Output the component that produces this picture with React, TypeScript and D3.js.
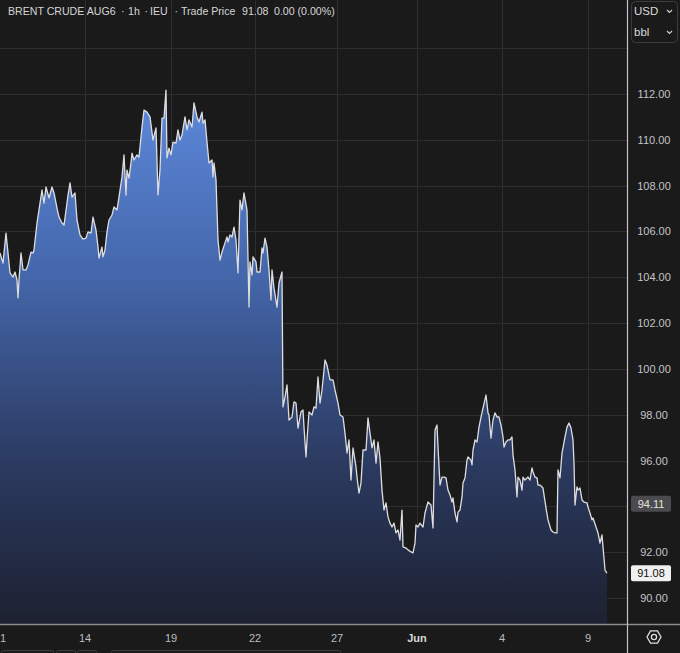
import { useRef, useEffect } from 'react';
import * as d3 from 'd3';

// [hour index, price], hourly bars
const weekA: [number, number][] = [
  [0, 105.06], [1.5, 104.62], [3, 105.93], [4, 105.06], [5, 104.19], [6.5, 104.01], [7.5, 104.23],
  [8.5, 103.88], [9, 103.1], [9.5, 103.88], [10.5, 105.06], [11.5, 104.32], [13, 104.32], [14, 104.54],
  [15.5, 105.1], [16.5, 105.06], [17, 105.19], [18.5, 106.37], [19.5, 106.94], [21, 107.81], [22, 107.24],
  [23, 107.94], [24.5, 107.46], [26, 107.94], [27, 107.68], [28.5, 107.02], [29.5, 106.63], [31, 106.37],
  [32, 106.28], [33.5, 107.24], [34, 107.59], [35, 108.12], [36, 107.5], [37.5, 107.68], [38.5, 106.5],
  [40, 105.85], [41.5, 105.67], [43, 105.71], [44, 105.98], [45.5, 105.93], [46.5, 106.63], [48, 106.06],
  [49, 105.32], [49.5, 104.84], [51, 105.32], [51.5, 104.89], [52.5, 105.19], [53.5, 105.98], [54.5, 106.5],
  [56, 106.72], [57, 107.07], [58.5, 106.94], [59.5, 107.5], [61, 108.38], [62, 109.34], [63, 107.59],
  [63.5, 108.68], [64.5, 108.33], [65.5, 108.99], [66, 109.42], [67, 109.12], [68.5, 109.34], [69.5, 109.25],
  [71, 110.56], [72, 111.3], [73.5, 111.21], [75, 111.0],
];

const weekB: [number, number][] = [
  [76.5, 109.99], [78, 110.52], [79, 107.59], [80, 108.68], [81, 110.95], [82, 110.95], [83, 112.17],
  [83.5, 109.21], [84.5, 109.64], [85.5, 109.34], [86.5, 109.9], [88, 109.86], [89, 110.43], [90, 109.99],
  [91, 110.21], [92.5, 111.0], [93.5, 110.43], [94.5, 110.87], [96, 110.56], [97, 111.61], [98.5, 111.0],
  [99.5, 110.78], [101, 111.21], [101.5, 110.73], [102.5, 110.87], [103.5, 109.9], [104.5, 108.99],
  [106, 109.12], [106.5, 108.38], [107, 108.99], [108, 108.25], [109, 105.63], [110, 104.75], [111, 105.1],
  [112.5, 105.5], [113.5, 105.76], [114, 105.54], [115, 105.85], [116, 105.76], [117, 106.19], [118, 105.63],
  [119, 104.19], [120, 107.37], [121, 106.94], [122, 107.68], [123.5, 106.94], [124.5, 102.7], [125, 104.67],
  [126, 104.1], [126.5, 104.89], [128, 104.67], [128.5, 104.23], [130, 104.23], [131, 105.28], [131.5, 105.06],
  [132.5, 105.71], [133.5, 105.32], [134.5, 104.32], [135.5, 103.01], [136, 104.32], [137, 103.53],
  [138.5, 102.7], [139.5, 103.75], [141, 104.23],
];

const weekC: [number, number][] = [
  [141.5, 98.34], [142.5, 98.77], [143.5, 99.3], [144.5, 97.77], [146, 97.9], [147, 98.56], [148, 98.51],
  [149, 97.42], [150.5, 98.12], [151.5, 98.21], [152, 97.46], [153, 96.16], [153.5, 96.9], [154.5, 98.12],
  [156, 97.99], [157, 98.34], [158, 98.29], [159, 99.65], [160, 98.51], [161, 99.08], [162.5, 100.39],
  [163.5, 100.17], [165, 99.52], [166.5, 99.52], [167.5, 99.08], [169, 98.51], [170, 97.99], [171.5, 97.9],
  [172.5, 97.2], [173.5, 96.33], [174.5, 96.9], [175.5, 95.15], [176.5, 96.55], [178, 95.72], [178.5, 95.28],
  [179.5, 94.58], [180.5, 95.02], [181.5, 96.46], [183, 96.46], [184, 97.86], [185, 97.2], [186, 96.55],
  [187, 96.9], [188, 95.89], [189, 96.81], [190, 96.11], [191, 94.71], [192, 93.84], [193, 94.15],
  [194, 93.54], [195, 93.27], [196, 93.1], [197, 93.27], [198, 92.84], [199, 92.97], [200, 92.53],
  [201, 93.84], [201.5, 92.23], [203, 92.18], [204, 92.1], [205.5, 92.01], [206.5, 91.97], [207.5, 92.4],
  [208, 93.19], [209, 93.1],
];

const weekD: [number, number][] = [
  [210, 93.27], [211.5, 93.1], [212.5, 93.71], [214, 94.19], [215.5, 94.06], [216.5, 93.06], [217.5, 97.33],
  [218.5, 97.55], [219, 96.59], [220, 94.93], [221, 95.28], [222, 95.28], [223, 95.24], [224, 94.71],
  [225, 94.5], [226, 94.19], [226.5, 94.37], [227.5, 93.71], [228.5, 93.32], [229, 93.75], [230, 93.84],
  [231, 94.41], [231.5, 95.02], [232.5, 95.24], [233.5, 96.02], [234, 96.16], [235.5, 96.02], [236, 95.81],
  [236.5, 96.46], [237.5, 96.9], [238.5, 96.81], [239.5, 97.46], [240.5, 97.9], [241.5, 98.29], [243, 98.86],
  [244, 98.08], [244.5, 97.99], [245.5, 96.98], [246.5, 97.77], [247.5, 98.08], [248.5, 97.9], [249.5, 97.9],
  [250.5, 97.55], [251.5, 97.03], [252, 96.59], [253, 96.81], [254, 96.9], [255, 96.9], [256, 97.03],
  [256.5, 96.24], [257.5, 95.59], [258.5, 94.41], [259, 95.28], [260, 95.15], [261, 94.71], [261.5, 95.28],
  [262.5, 95.15], [263.5, 95.24], [264, 95.28], [265, 95.15], [266, 95.68], [266.5, 95.5], [267.5, 95.28],
  [268.5, 95.24], [269, 94.93], [270, 94.93], [271.5, 94.8], [272, 94.5], [273, 93.93], [274, 93.41],
  [275.5, 92.97], [276.5, 92.88], [277.5, 92.84], [278.5, 92.84], [279, 95.59], [280, 95.24], [281, 96.33],
  [281.5, 96.55], [282.5, 97.03], [283.5, 97.46], [284.5, 97.64], [285.5, 97.42], [286.5, 96.9], [287, 95.89],
  [287.5, 94.06], [288.5, 94.85], [289, 94.71], [290, 94.8], [291, 94.28], [292, 94.19], [293.5, 94.15],
  [294, 93.97], [295, 93.71], [296, 93.41], [296.5, 93.49], [298, 93.1], [299, 92.84], [300, 92.4],
  [301, 92.75], [301.5, 92.23], [302.5, 91.22], [303.5, 91.08],
];

const dateTickHours = [1.5, 42.5, 85.5, 127.5, 168.5, 208.5, 251, 294];
const dateTickLabels = ['1', '14', '19', '22', '27', 'Jun', '4', '9'];
const priceTicks = [90, 92, 94, 96, 98, 100, 102, 104, 106, 108, 110, 112];
const gridPrices = [90, 92, 94, 96, 98, 100, 102, 104, 106, 108, 110, 112, 114];
const prevClose = 94.11;
const lastPrice = 91.08;

const W = 680;
const H = 653;
const FONT = '"Liberation Sans", Arial, sans-serif';

export default function App() {
  const svgRef = useRef<SVGSVGElement>(null);

  useEffect(() => {
    if (!svgRef.current) return;
    const svg = d3.select(svgRef.current);
    svg.selectAll('*').remove();

    const data = [...weekA, ...weekB, ...weekC, ...weekD];
    const plotRight = 627;
    const plotBottom = 624;

    const x = d3.scaleLinear().domain([0, 313.5]).range([0, plotRight]);
    const y = d3.scaleLinear().domain([90, 112]).range([598, 94]);

    svg.append('rect').attr('width', W).attr('height', H).attr('fill', '#1a1a1b');

    const defs = svg.append('defs');
    const grad = defs.append('linearGradient')
      .attr('id', 'fillGrad')
      .attr('gradientUnits', 'userSpaceOnUse')
      .attr('x1', 0).attr('x2', 0).attr('y1', 90).attr('y2', plotBottom);
    grad.append('stop').attr('offset', 0).attr('stop-color', '#5d89dc');
    grad.append('stop').attr('offset', 0.35).attr('stop-color', '#4466aa');
    grad.append('stop').attr('offset', 0.7).attr('stop-color', '#2b3a60');
    grad.append('stop').attr('offset', 1).attr('stop-color', '#1d2131');

    defs.append('clipPath').attr('id', 'plotClip')
      .append('rect').attr('x', 0).attr('y', 0).attr('width', plotRight).attr('height', plotBottom);

    // grid
    const grid = svg.append('g');
    gridPrices.forEach((p) => {
      grid.append('line')
        .attr('x1', 0).attr('x2', plotRight)
        .attr('y1', Math.round(y(p)) + 0.5).attr('y2', Math.round(y(p)) + 0.5)
        .attr('stroke', '#2e2e30').attr('stroke-width', 1);
    });
    dateTickHours.slice(1).forEach((h) => {
      grid.append('line')
        .attr('x1', Math.round(x(h)) + 0.5).attr('x2', Math.round(x(h)) + 0.5)
        .attr('y1', 0).attr('y2', plotBottom)
        .attr('stroke', '#2e2e30').attr('stroke-width', 1);
    });

    const plot = svg.append('g').attr('clip-path', 'url(#plotClip)');

    const area = d3.area<[number, number]>()
      .x((d) => x(d[0]))
      .y0(plotBottom)
      .y1((d) => y(d[1]));
    plot.append('path').datum(data).attr('d', area).attr('fill', 'url(#fillGrad)');

    const line = d3.line<[number, number]>()
      .x((d) => x(d[0]))
      .y((d) => y(d[1]));
    plot.append('path').datum(data).attr('d', line)
      .attr('fill', 'none')
      .attr('stroke', '#dedee0')
      .attr('stroke-width', 1.3)
      .attr('stroke-linejoin', 'round');

    // header
    const header = svg.append('g')
      .attr('font-family', FONT).attr('font-size', 10.6).attr('fill', '#d6d6d6');
    const headerParts: [number, string][] = [
      [8, 'BRENT CRUDE AUG6'], [121, '·'], [128, '1h'], [144.5, '·'], [150, 'IEU'],
      [174.5, '·'], [181, 'Trade Price'], [242, '91.08'], [274, '0.00 (0.00%)'],
    ];
    headerParts.forEach(([hx, t]) => {
      header.append('text').attr('x', hx).attr('y', 14.5).text(t);
    });

    // axes lines
    svg.append('line')
      .attr('x1', 0).attr('x2', W).attr('y1', plotBottom + 0.5).attr('y2', plotBottom + 0.5)
      .attr('stroke', '#8c8c8e').attr('stroke-width', 1.5);
    svg.append('line')
      .attr('x1', plotRight + 0.5).attr('x2', plotRight + 0.5).attr('y1', 0).attr('y2', H)
      .attr('stroke', '#c4c4c6').attr('stroke-width', 1.2);

    // price axis (labels hidden where a price tag sits)
    const yAxis = svg.append('g').attr('font-family', FONT).attr('font-size', 11).attr('fill', '#c4c4c6');
    priceTicks
      .filter((p) => Math.abs(y(p) - y(prevClose)) > 12 && Math.abs(y(p) - y(lastPrice)) > 12)
      .forEach((p) => {
        yAxis.append('text')
          .attr('x', 654).attr('y', y(p) + 4)
          .attr('text-anchor', 'middle')
          .text(p.toFixed(2));
      });

    const tag = (value: number, bg: string, fg: string) => {
      const cy = y(value);
      svg.append('rect')
        .attr('x', 631).attr('y', cy - 8).attr('width', 40).attr('height', 16)
        .attr('rx', 2).attr('fill', bg);
      svg.append('text')
        .attr('x', 651).attr('y', cy + 4)
        .attr('text-anchor', 'middle')
        .attr('font-family', FONT).attr('font-size', 11)
        .attr('fill', fg)
        .text(value.toFixed(2));
    };
    tag(prevClose, '#4b4b4d', '#e2e2e2');
    tag(lastPrice, '#f0f0f0', '#111');

    // currency / unit selector
    svg.append('rect')
      .attr('x', 631.5).attr('y', 1.5).attr('width', 46).attr('height', 41).attr('rx', 4)
      .attr('fill', '#1a1a1b').attr('stroke', '#3c3c3e');
    const sel = svg.append('g').attr('font-family', FONT).attr('font-size', 11.5).attr('fill', '#dadada');
    sel.append('text').attr('x', 634).attr('y', 15).text('USD');
    sel.append('text').attr('x', 634).attr('y', 36).text('bbl');
    [11, 32].forEach((cy) => {
      svg.append('path')
        .attr('d', `M667,${cy - 1} L669.5,${cy + 1.5} L672,${cy - 1}`)
        .attr('fill', 'none').attr('stroke', '#cfcfcf').attr('stroke-width', 1.2);
    });

    // date axis
    const xAxis = svg.append('g').attr('font-family', FONT).attr('font-size', 11);
    dateTickHours.forEach((h, i) => {
      const isMonth = dateTickLabels[i] === 'Jun';
      xAxis.append('text')
        .attr('x', x(h)).attr('y', 642)
        .attr('text-anchor', 'middle')
        .attr('font-weight', isMonth ? 700 : 400)
        .attr('fill', isMonth ? '#d8d8d8' : '#bdbdbf')
        .text(dateTickLabels[i]);
    });

    // settings icon
    const hex = d3.range(6).map((k) => {
      const a = Math.PI / 3 * k;
      return [654 + 7 * Math.cos(a), 637 + 7 * Math.sin(a)];
    });
    svg.append('path')
      .attr('d', 'M' + hex.map((p) => p.join(',')).join('L') + 'Z')
      .attr('fill', 'none').attr('stroke', '#dcdcdc').attr('stroke-width', 1.3);
    svg.append('circle').attr('cx', 654).attr('cy', 637).attr('r', 2.6)
      .attr('fill', 'none').attr('stroke', '#dcdcdc').attr('stroke-width', 1.3);

    // partially visible toolbar buttons
    [[1, 53], [56, 75], [77, 96], [111, 340]].forEach(([a, b]) => {
      svg.append('rect')
        .attr('x', a + 0.5).attr('y', 650.5).attr('width', b - a).attr('height', 10)
        .attr('rx', 2).attr('fill', 'none').attr('stroke', '#3e3e40');
    });
  }, []);

  return (
    <svg
      ref={svgRef}
      width={W}
      height={H}
      style={{ position: 'fixed', top: 0, left: 0, display: 'block' }}
    />
  );
}
